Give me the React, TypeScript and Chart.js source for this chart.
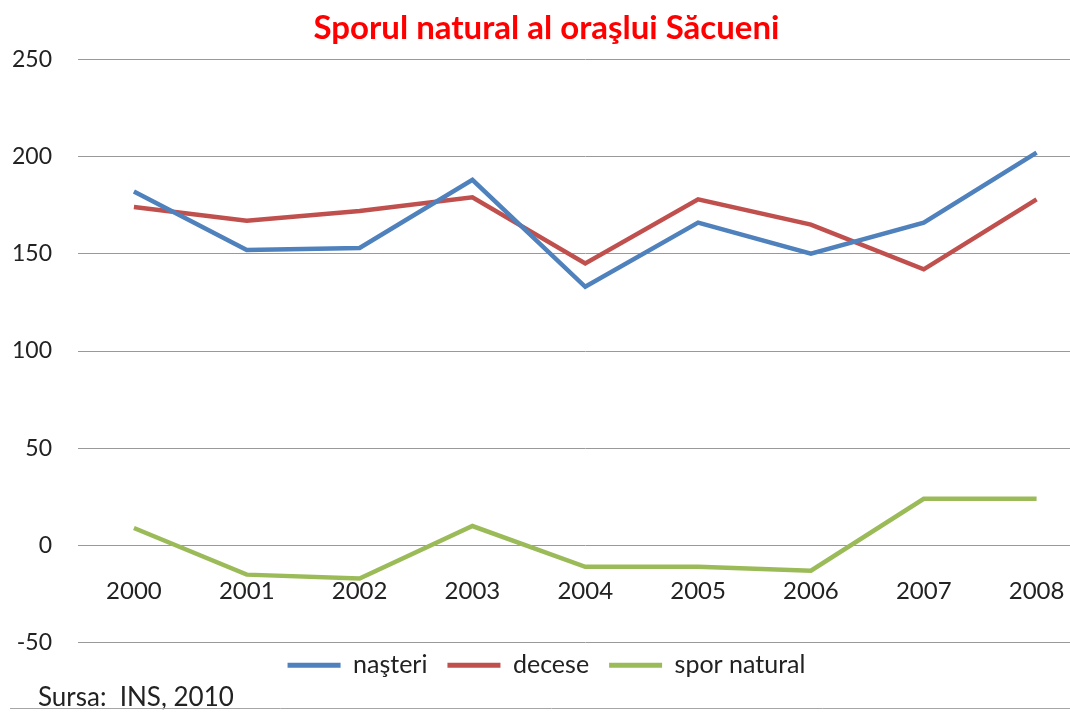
import React, { useEffect, useRef } from "react";
import { Chart, registerables } from "chart.js";

Chart.register(...registerables);

const TITLE = "Sporul natural al oraşlui Săcueni";
const SOURCE_TEXT = "Sursa:  INS, 2010";
const YEARS = ["2000", "2001", "2002", "2003", "2004", "2005", "2006", "2007", "2008"];
const NASTERI = [182, 152, 153, 188, 133, 166, 150, 166, 202];
const DECESE = [174, 167, 172, 179, 145, 178, 165, 142, 178];
const SPOR = [9, -15, -17, 10, -11, -11, -13, 24, 24];
const SERIES_NAMES = ["naşteri", "decese", "spor natural"];
const Y_MIN = -50;
const Y_MAX = 250;
const Y_STEP = 50;

const FONT = "Lato, 'Open Sans', sans-serif";

const sourcePlugin = {
  id: "sourceNote",
  afterLayout(chart: any) {
    const lg = chart.legend;
    if (lg) {
      lg.top -= 10;
      lg.bottom -= 10;
    }
  },
  afterDraw(chart: any) {
    const { ctx } = chart;
    ctx.save();
    ctx.font = `26px ${FONT}`;
    ctx.fillStyle = "#222";
    ctx.textBaseline = "alphabetic";
    ctx.textAlign = "left";
    ctx.fillText(SOURCE_TEXT, 38, 706);
    ctx.strokeStyle = "#a6a6a6";
    ctx.lineWidth = 1;
    ctx.beginPath();
    ctx.moveTo(10, 708.5);
    ctx.lineTo(chart.width, 708.5);
    ctx.stroke();
    ctx.restore();
  },
};

export default function App() {
  const ref = useRef<HTMLCanvasElement | null>(null);

  useEffect(() => {
    if (!ref.current) return;
    const colors = ["#4F81BD", "#C0504D", "#9BBB59"];
    const values = [NASTERI, DECESE, SPOR];
    const chart = new Chart(ref.current, {
      type: "line",
      data: {
        labels: YEARS,
        datasets: values.map((v, i) => ({
          label: SERIES_NAMES[i],
          data: v,
          borderColor: colors[i],
          backgroundColor: colors[i],
          borderWidth: 4.5,
          pointRadius: 0,
          tension: 0,
          fill: false,
        })),
      },
      plugins: [sourcePlugin],
      options: {
        responsive: false,
        animation: false,
        devicePixelRatio: 1,
        layout: { padding: { left: 0, right: 0, top: 0, bottom: 17.3 } },
        plugins: {
          tooltip: { enabled: false },
          title: {
            display: true,
            text: TITLE,
            color: "#FF0000",
            font: { family: FONT, size: 33, weight: "bold", lineHeight: 1.2 },
            padding: { top: 8.2, bottom: 11.5 },
          },
          legend: {
            position: "bottom",
            labels: {
              color: "#222",
              font: { family: FONT, size: 25 },
              boxWidth: 53,
              boxHeight: 5,
              padding: 20,
              generateLabels: (c: any) => {
                const items = (Chart.defaults.plugins.legend.labels as any).generateLabels(c);
                return items.map((it: any) => ({ ...it, lineWidth: 0 }));
              },
            },
          },
        },
        scales: {
          x: {
            type: "category",
            offset: true,
            position: { y: 0 } as any,
            grid: { display: false },
            border: { display: false },
            ticks: {
              color: "#222",
              font: { family: FONT, size: 24 },
              padding: 23,
              maxRotation: 0,
              autoSkip: false,
            },
            afterFit: (s: any) => {
              s.height = 0;
            },
          },
          y: {
            min: Y_MIN,
            max: Y_MAX,
            grid: { color: "#999999", lineWidth: 1, drawTicks: false },
            border: { display: false },
            ticks: {
              stepSize: Y_STEP,
              color: "#222",
              font: { family: FONT, size: 23 },
              padding: 25.5,
            },
            afterFit: (s: any) => {
              s.width = 77.5;
            },
          },
        },
      },
    });
    return () => chart.destroy();
  }, []);

  return (
    <div
      style={{
        position: "absolute",
        left: 0,
        top: 0,
        width: 1070,
        height: 715,
        overflow: "hidden",
        background: "#fff",
      }}
    >
      <canvas ref={ref} width={1093} height={715} style={{ display: "block" }} />
    </div>
  );
}
